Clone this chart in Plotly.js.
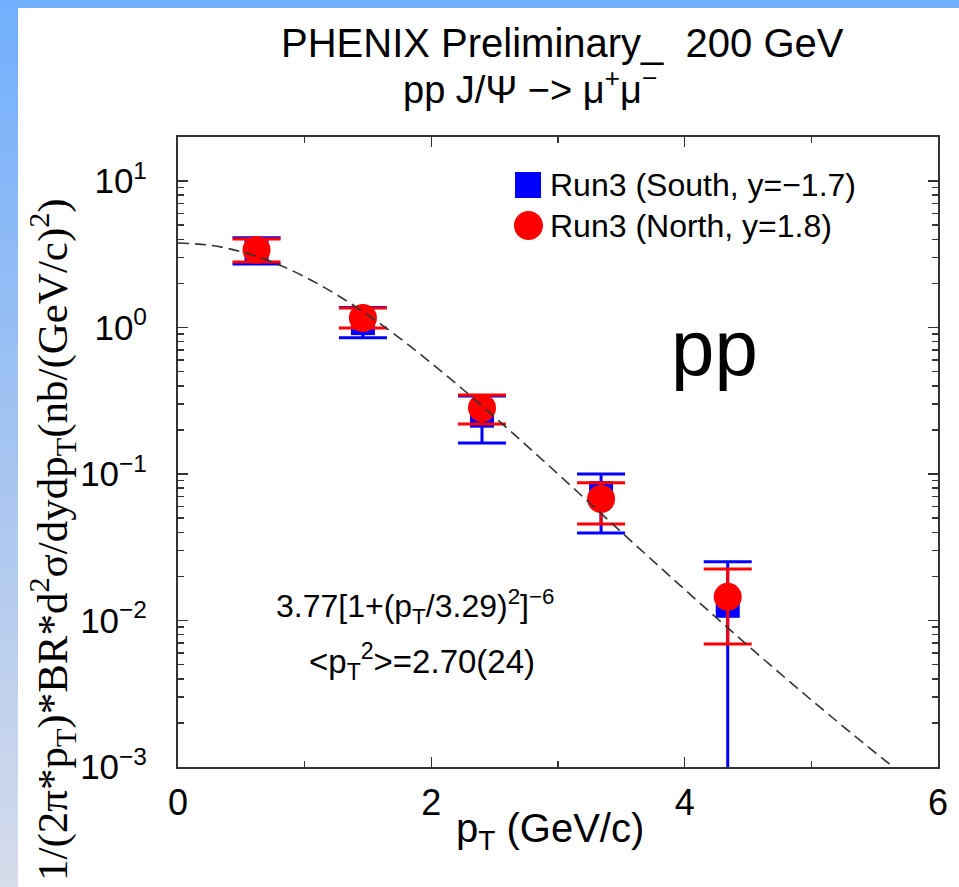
<!DOCTYPE html>
<html>
<head>
<meta charset="utf-8">
<script src="https://cdn.plot.ly/plotly-3.0.1.min.js"></script>
<style>
  html, body { margin:0; padding:0; width:959px; height:887px; overflow:hidden;
    background: linear-gradient(to bottom, #72affd 0%, #a9c6f0 55%, #d6dceb 100%); }
  #paper { position:absolute; left:18px; top:8px; width:941px; height:879px; background:#ffffff; }
  #chart { position:absolute; left:0; top:0; width:959px; height:887px; }
</style>
</head>
<body>
<div id="paper"></div>
<div id="chart"></div>
<script>
// ---- data ----
const pT_south      = [0.62, 1.46, 2.40, 3.34, 4.34];
const yield_south   = [3.35, 1.07, 0.25, 0.074, 0.0126];
const errUp_south   = [0.75, 0.30, 0.09, 0.026, 0.0126];
const errDown_south = [0.64, 0.22, 0.087, 0.0345, 0.0126];

const pT_north      = [0.62, 1.46, 2.40, 3.34, 4.34];
const yield_north   = [3.38, 1.16, 0.282, 0.0675, 0.0145];
const errUp_north   = [0.64, 0.20, 0.064, 0.0195, 0.008];
const errDown_north = [0.58, 0.17, 0.063, 0.0219, 0.0076];

// dashed fit curve
const pT_fit  = [0, 0.25, 0.5, 0.75, 1.0, 1.25, 1.5, 1.75, 2.0, 2.25, 2.5, 2.75, 3.0, 3.25, 3.5, 3.75, 4.0, 4.25, 4.5, 4.75, 5.0, 5.25, 5.5, 5.75, 6.0];
const fit_val = [3.77, 3.642, 3.287, 2.782, 2.219, 1.679, 1.214, 0.8455, 0.5714, 0.3772, 0.2447, 0.1569, 0.0999, 0.06337, 0.04017, 0.02552, 0.01628, 0.01044, 0.006735, 0.004378, 0.002868, 0.001896, 0.001263, 0.000849, 0.000575];

const xTickVals = [0, 2, 4, 6];
const xTickText = ['0', '2', '4', '6'];
const yTickVals = [0.001, 0.01, 0.1, 1, 10];
const yTickText = ['10<sup>−3</sup>', '10<sup>−2</sup>', '10<sup>−1</sup>', '10<sup>0</sup>', '10<sup>1</sup>'];

const legendNames = ['Run3 (South, y=−1.7)', 'Run3 (North, y=1.8)'];

// ---- layout helpers ----
const W = 959, H = 887;
const M = {l:178, r:21, t:137, b:120};
const PW = W - M.l - M.r, PH = H - M.t - M.b;
const px = X => (X - M.l) / PW;
const py = Y => (H - M.b - Y) / PH;

let yMinor = [];
for (let k = -3; k <= 1; k++) for (let m = 2; m <= 9; m++) yMinor.push(m * Math.pow(10, k));

const SANS = 'Liberation Sans, Arial, sans-serif';
const SERIF = 'Liberation Serif, Times New Roman, serif';

const traces = [
  {
    x: pT_south, y: yield_south, type: 'scatter', mode: 'markers', name: legendNames[0],
    marker: {symbol: 'square', size: 24, color: '#0000ff', line: {width: 0}},
    error_y: {type: 'data', symmetric: false, array: errUp_south, arrayminus: errDown_south,
              color: '#0000ff', thickness: 3, width: 24},
    showlegend: false, cliponaxis: true
  },
  {
    x: pT_north, y: yield_north, type: 'scatter', mode: 'markers', name: legendNames[1],
    marker: {symbol: 'circle', size: 28, color: '#ff0000', line: {width: 0}},
    error_y: {type: 'data', symmetric: false, array: errUp_north, arrayminus: errDown_north,
              color: '#ff0000', thickness: 3, width: 24},
    showlegend: false, cliponaxis: true
  },
  {
    x: pT_fit, y: fit_val, type: 'scatter', mode: 'lines', name: 'fit',
    line: {color: '#333333', width: 1.6, dash: '11px,6px', shape: 'spline'},
    showlegend: false, hoverinfo: 'skip'
  }
];

const layout = {
  width: W, height: H,
  margin: M,
  paper_bgcolor: 'rgba(0,0,0,0)',
  plot_bgcolor: '#ffffff',
  font: {family: SANS, color: '#000000', size: 30},
  showlegend: false,
  xaxis: {
    range: [0, 6], tickvals: xTickVals, ticktext: xTickText,
    ticks: 'inside', ticklen: 10, tickwidth: 1.5, tickcolor: '#333',
    showline: true, linecolor: '#333', linewidth: 2, mirror: 'ticks',
    showgrid: false, zeroline: false,
    tickfont: {family: SANS, size: 36, color: '#000'},
    ticklabelstandoff: 3,
    minor: {dtick: 1, ticks: 'inside', ticklen: 6, tickwidth: 1.5, tickcolor: '#333', showgrid: false}
  },
  yaxis: {
    type: 'log', range: [-3, 1.30], tickvals: yTickVals, ticktext: yTickText,
    ticks: 'inside', ticklen: 10, tickwidth: 1.5, tickcolor: '#333',
    showline: true, linecolor: '#333', linewidth: 2, mirror: 'ticks',
    showgrid: false, zeroline: false,
    tickfont: {family: SANS, size: 35, color: '#000'},
    ticklabelstandoff: 22,
    minor: {tickvals: yMinor, ticks: 'inside', ticklen: 6, tickwidth: 1.5, tickcolor: '#333', showgrid: false}
  },
  annotations: [
    {text: 'PHENIX Preliminary_  200 GeV', xref: 'paper', yref: 'paper', x: px(562), y: py(43),
     xanchor: 'center', yanchor: 'middle', showarrow: false, font: {family: SANS, size: 40, color: '#000'}},
    {text: 'pp J/Ψ −> μ<sup>+</sup>μ<sup>−</sup>', xref: 'paper', yref: 'paper', x: px(530), y: py(87),
     xanchor: 'center', yanchor: 'middle', showarrow: false, font: {family: SANS, size: 38, color: '#000'}},
    {text: '1/(2π*p<sub>T</sub>)*BR*d<sup>2</sup>σ/dydp<sub>T</sub>(nb/(GeV/c)<sup>2</sup>)', xref: 'paper', yref: 'paper',
     x: px(52), y: py(540), xanchor: 'center', yanchor: 'middle', textangle: -90, showarrow: false,
     font: {family: SERIF, size: 43, color: '#000'}},
    {text: 'p<sub>T</sub> (GeV/c)', xref: 'paper', yref: 'paper', x: px(550), y: py(831),
     xanchor: 'center', yanchor: 'middle', showarrow: false, font: {family: SANS, size: 40, color: '#000'}},
    {text: 'pp', xref: 'paper', yref: 'paper', x: px(714), y: py(348),
     xanchor: 'center', yanchor: 'middle', showarrow: false, font: {family: SANS, size: 78, color: '#000'}},
    {text: '3.77[1+(p<sub>T</sub>/3.29)<sup>2</sup>]<sup>−6</sup>', xref: 'paper', yref: 'paper', x: px(415), y: py(606),
     xanchor: 'center', yanchor: 'middle', showarrow: false, font: {family: SANS, size: 32, color: '#000'}},
    {text: '<p<sub>T</sub><sup>2</sup>>=2.70(24)', xref: 'paper', yref: 'paper', x: px(422), y: py(661),
     xanchor: 'center', yanchor: 'middle', showarrow: false, font: {family: SANS, size: 33, color: '#000'}},
    {text: legendNames[0], xref: 'paper', yref: 'paper', x: px(548), y: py(185),
     xanchor: 'left', yanchor: 'middle', showarrow: false, font: {family: SANS, size: 32, color: '#000'}},
    {text: legendNames[1], xref: 'paper', yref: 'paper', x: px(548), y: py(226),
     xanchor: 'left', yanchor: 'middle', showarrow: false, font: {family: SANS, size: 32, color: '#000'}}
  ],
  shapes: [
    {type: 'rect', xref: 'paper', yref: 'paper', x0: px(515), x1: px(541), y0: py(198), y1: py(172),
     fillcolor: '#0000ff', line: {width: 0}},
    {type: 'circle', xref: 'paper', yref: 'paper', x0: px(514), x1: px(543), y0: py(240), y1: py(211),
     fillcolor: '#ff0000', line: {width: 0}}
  ]
};

Plotly.newPlot('chart', traces, layout, {displayModeBar: false, staticPlot: true});
</script>
</body>
</html>
